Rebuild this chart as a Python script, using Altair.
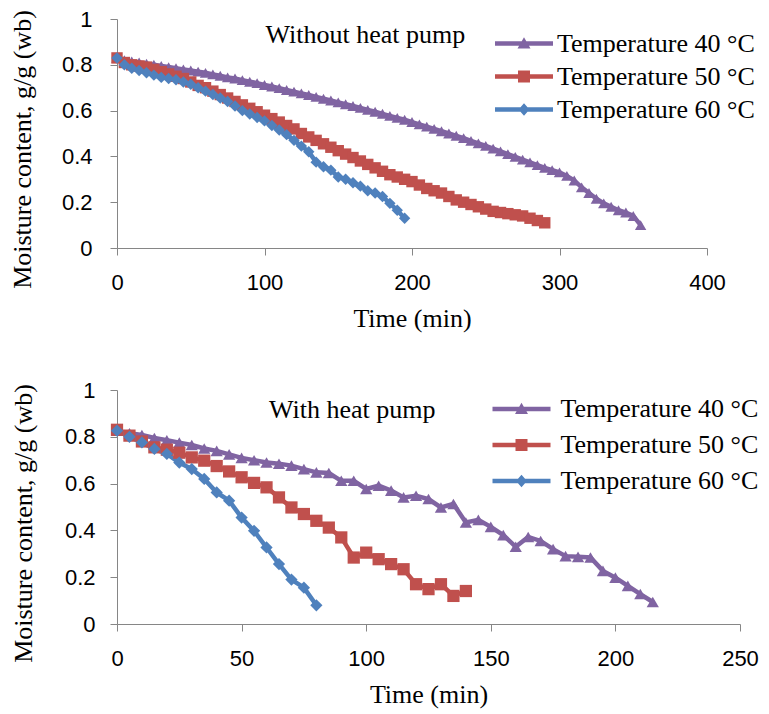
import altair as alt
import pandas as pd

SERIES = ["Temperature 40 °C", "Temperature 50 °C", "Temperature 60 °C"]
COLORS = ["#8064A2", "#C0504D", "#4F81BD"]
SHAPES = ["triangle-up", "square", "diamond"]

# ---- Without heat pump (top panel), samples every 5 min ----
top_t40 = list(range(0, 356, 5))
top_40 = [0.83, 0.82, 0.815, 0.81, 0.805, 0.80, 0.795, 0.79, 0.785, 0.78,
          0.775, 0.77, 0.765, 0.758, 0.752, 0.745, 0.74, 0.733, 0.726, 0.72,
          0.712, 0.705, 0.698, 0.69, 0.683, 0.675, 0.668, 0.66, 0.652, 0.644,
          0.636, 0.628, 0.62, 0.612, 0.603, 0.595, 0.586, 0.577, 0.568, 0.56,
          0.55, 0.54, 0.53, 0.52, 0.51, 0.50, 0.49, 0.48, 0.468, 0.457,
          0.446, 0.434, 0.422, 0.41, 0.398, 0.386, 0.374, 0.362, 0.35, 0.34,
          0.33, 0.315, 0.295, 0.265, 0.24, 0.215, 0.195, 0.18, 0.165, 0.155,
          0.14, 0.10]
top_t50 = list(range(0, 291, 5))
top_50 = [0.83, 0.81, 0.80, 0.795, 0.79, 0.78, 0.77, 0.76, 0.75, 0.74,
          0.725, 0.71, 0.70, 0.685, 0.67, 0.655, 0.64, 0.625, 0.61, 0.595,
          0.58, 0.565, 0.55, 0.535, 0.52, 0.50, 0.485, 0.47, 0.455, 0.44,
          0.425, 0.41, 0.395, 0.38, 0.365, 0.35, 0.335, 0.32, 0.31, 0.30,
          0.29, 0.275, 0.26, 0.25, 0.24, 0.225, 0.21, 0.20, 0.19, 0.18,
          0.17, 0.16, 0.155, 0.15, 0.145, 0.14, 0.13, 0.12, 0.11]
top_t60 = list(range(0, 196, 5))
top_60 = [0.83, 0.80, 0.785, 0.775, 0.765, 0.755, 0.745, 0.74, 0.735, 0.725,
          0.715, 0.70, 0.685, 0.67, 0.655, 0.64, 0.62, 0.60, 0.585, 0.57,
          0.555, 0.535, 0.515, 0.495, 0.47, 0.445, 0.42, 0.375, 0.355, 0.34,
          0.31, 0.30, 0.285, 0.27, 0.25, 0.24, 0.225, 0.195, 0.165, 0.13]

# ---- With heat pump (bottom panel), samples every 5 min ----
bot_t40 = list(range(0, 216, 5))
bot_40 = [0.826, 0.815, 0.808, 0.795, 0.785, 0.775, 0.765, 0.75, 0.74, 0.725,
          0.71, 0.70, 0.69, 0.685, 0.677, 0.662, 0.648, 0.645, 0.612, 0.612,
          0.577, 0.591, 0.570, 0.541, 0.548, 0.534, 0.498, 0.513, 0.434, 0.445,
          0.415, 0.38, 0.33, 0.372, 0.355, 0.32, 0.29, 0.287, 0.284, 0.227,
          0.198, 0.163, 0.128, 0.094]
bot_t50 = list(range(0, 141, 5))
bot_50 = [0.83, 0.805, 0.78, 0.755, 0.745, 0.732, 0.712, 0.698, 0.675, 0.652,
          0.627, 0.603, 0.584, 0.541, 0.498, 0.47, 0.441, 0.412, 0.37, 0.284,
          0.305, 0.277, 0.256, 0.234, 0.17, 0.149, 0.17, 0.12, 0.141]
bot_t60 = list(range(0, 81, 5))
bot_60 = [0.826, 0.80, 0.776, 0.748, 0.727, 0.69, 0.662, 0.62, 0.562, 0.527,
          0.455, 0.398, 0.327, 0.256, 0.19, 0.155, 0.08]

NOTES = ["Without heat pump", "With heat pump"]
NOTE_X = [100.7, 61]
NOTE_Y = [0.928, 0.916]

SERIF = "Liberation Serif"
SANS = "Liberation Sans"
SERIF_SIZE = 26

# legend glyphs: a line segment with the series marker on it
LEG_PATHS = [
    "M-2.9,-0.22L2.9,-0.22L2.9,0.22L-2.9,0.22Z M0,-0.62L0.65,0.5L-0.65,0.5Z",
    "M-2.9,-0.22L2.9,-0.22L2.9,0.22L-2.9,0.22Z M-0.6,-0.6L0.6,-0.6L0.6,0.6L-0.6,0.6Z",
    "M-2.9,-0.22L2.9,-0.22L2.9,0.22L-2.9,0.22Z M0,-0.62L0.55,0L0,0.62L-0.55,0Z",
]


def build_df(parts):
    rows = []
    for name, ts, vs in parts:
        for t, v in zip(ts, vs):
            rows.append({"time": t, "mc": v, "series": name})
    return pd.DataFrame(rows)


def panel(df, xmax, xstep, w, h, note_i, leg_x, leg_y, row_pad, lab_off,
          y_lab_pad, y_title_pad, y_title_y, msize):
    legend = alt.Legend(
        title=None, orient="none", legendX=leg_x, legendY=leg_y,
        symbolSize=400, labelOffset=lab_off, rowPadding=row_pad,
        labelFont=SERIF, labelFontSize=SERIF_SIZE, labelColor="black", labelLimit=400,
        symbolStrokeWidth=0, symbolOpacity=1,
    )
    x = alt.X("time:Q", title="Time (min)",
              scale=alt.Scale(domain=[0, xmax], nice=False, zero=True),
              axis=alt.Axis(values=list(range(0, xmax + 1, xstep)),
                            labelPadding=17, titlePadding=12, labelFlush=False))
    y = alt.Y("mc:Q", title="Moisture content, g/g (wb)",
              scale=alt.Scale(domain=[0, 1], nice=False),
              axis=alt.Axis(values=[0, 0.2, 0.4, 0.6, 0.8, 1], format="~g",
                            labelPadding=y_lab_pad, titlePadding=y_title_pad,
                            titleY=y_title_y, labelFlush=False))
    cscale = alt.Scale(domain=SERIES, range=COLORS)
    color_nolegend = alt.Color("series:N", scale=cscale, legend=None)
    lines = alt.Chart(df).mark_line(strokeWidth=4.5).encode(x=x, y=y, color=color_nolegend)
    pts = alt.Chart(df).mark_point(filled=True, opacity=1, size=msize).encode(
        x=x, y=y, color=color_nolegend,
        shape=alt.Shape("series:N", scale=alt.Scale(domain=SERIES, range=SHAPES), legend=None),
    )
    leg = alt.Chart(df).transform_filter("false").mark_point(filled=True, opacity=1).encode(
        x=x, y=y,
        color=alt.Color("series:N", scale=cscale, legend=legend),
        shape=alt.Shape("series:N", scale=alt.Scale(domain=SERIES, range=LEG_PATHS), legend=legend),
    )
    note_df = pd.DataFrame({"time": [NOTE_X[note_i]], "mc": [NOTE_Y[note_i]], "label": [NOTES[note_i]]})
    note = alt.Chart(note_df).mark_text(
        align="left", baseline="middle", font=SERIF, fontSize=SERIF_SIZE, color="black"
    ).encode(x="time:Q", y="mc:Q", text="label:N")
    return alt.layer(lines, pts, leg, note).resolve_scale(
        shape="independent", color="independent"
    ).properties(width=w, height=h)


top_df = build_df([(SERIES[0], top_t40, top_40), (SERIES[1], top_t50, top_50), (SERIES[2], top_t60, top_60)])
bot_df = build_df([(SERIES[0], bot_t40, bot_40), (SERIES[1], bot_t50, bot_50), (SERIES[2], bot_t60, bot_60)])

top = panel(top_df, 400, 100, 590, 229, 0, 394, 11.5, 7, 20, 18, 26, 130, 130)
bot = panel(bot_df, 250, 50, 623, 234, 1, 391.5, 6, 10, 26, 15, 28, 133, 150)

chart = alt.concat(top, bot, columns=1, spacing=48, align="none").resolve_scale(
    x="independent", y="independent", color="independent", shape="independent"
).resolve_legend(color="independent", shape="independent").configure(
    padding={"left": 1, "top": 0, "right": 0, "bottom": 2}
).configure_view(stroke=None).configure_axis(
    grid=False, domainColor="#868686", tickColor="#868686", tickSize=7,
    labelFont=SANS, labelFontSize=22, labelColor="black",
    titleFont=SERIF, titleFontSize=SERIF_SIZE, titleFontWeight="normal", titleColor="black",
)

chart.save("out.html", embed_options={"renderer": "svg", "actions": False})
